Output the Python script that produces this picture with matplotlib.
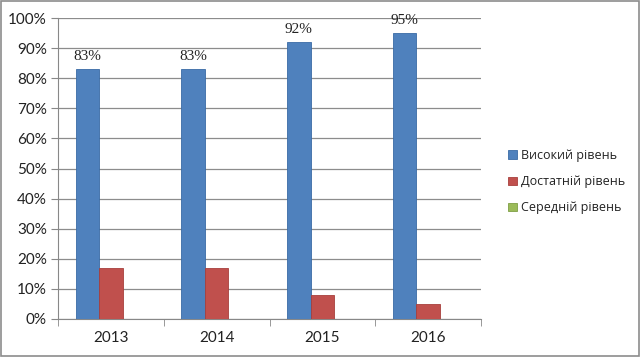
import matplotlib
matplotlib.use("Agg")
import matplotlib.pyplot as plt
import numpy as np
from matplotlib.patches import Rectangle

years = ["2013", "2014", "2015", "2016"]
series_names = ["Високий рівень", "Достатній рівень", "Середній рівень"]
high = [83, 83, 92, 95]
sufficient = [17, 17, 8, 5]
medium = [0, 0, 0, 0]
colors = ["#4F81BD", "#C0504D", "#9BBB59"]
edges = ["#3A6BA5", "#A73F3C", "#7F9F45"]

fig = plt.figure(figsize=(6.4, 3.57), dpi=100)
fig.patch.set_facecolor("white")
fig.patches.append(Rectangle((0.002, 0.003), 0.996, 0.994, transform=fig.transFigure,
                             fill=False, edgecolor="#8C8C8C", linewidth=1.2))

ax = fig.add_axes([58/640, 1-319/357, (481-58)/640, (319-18)/357])
x = np.arange(len(years))
w = 1/4.5
for i, (vals, c, ec, name) in enumerate(zip([high, sufficient, medium], colors, edges, series_names)):
    ax.bar(x + (i-1)*w, vals, width=w, color=c, edgecolor=ec, linewidth=0.6, label=name, zorder=3)

for xi, v in zip(x, high):
    ax.text(xi - w, v + 2.0, f"{v}%", ha="center", va="bottom", fontsize=11,
            family="Liberation Serif", color="#222222")

ax.set_xlim(-0.5, len(years)-0.5)
ax.set_ylim(0, 100)
ax.set_yticks(range(0, 101, 10))
ax.set_yticklabels([f"{t}%" for t in range(0, 101, 10)], fontsize=11, family="Lato", color="#222222")
ax.set_xticks(x)
ax.set_xticklabels(years, fontsize=11, family="Lato", color="#222222")
ax.set_xticks(np.arange(-0.5, len(years)), minor=True)
ax.tick_params(axis="x", which="major", length=0, pad=9)
ax.tick_params(axis="x", which="minor", length=5, color="#888888", direction="out")
ax.tick_params(axis="y", length=5, color="#888888", direction="out", pad=3)
ax.grid(axis="y", color="#8C8C8C", linewidth=0.9, zorder=0)
for s in ["top", "right"]:
    ax.spines[s].set_visible(False)
ax.spines["left"].set_color("#888888")
ax.spines["bottom"].set_color("#888888")

leg = fig.legend(loc="upper left", bbox_to_anchor=(497/640, 1-138/357), frameon=False,
                 prop={"family": "Open Sans", "size": 9}, handlelength=0.7, handleheight=0.7,
                 handletextpad=0.35, labelspacing=1.05)
for t in leg.get_texts():
    t.set_color("#222222")

fig.savefig("out.png", dpi=100)
